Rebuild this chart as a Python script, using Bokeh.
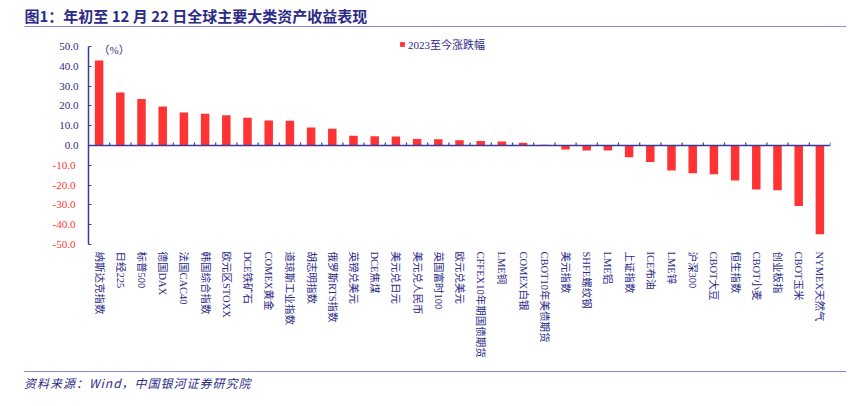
import math
from bokeh.plotting import figure
from bokeh.models import (ColumnDataSource, Div, Span, Label, Legend,
                          LegendItem, FixedTicker, LinearAxis)
from bokeh.layouts import column
from bokeh.transform import dodge
from bokeh.embed import file_html
from bokeh.resources import INLINE

# ---------------- data ----------------
categories = ["纳斯达克指数", "日经225", "标普500", "德国DAX", "法国CAC40", "韩国综合指数",
              "欧元区STOXX", "DCE铁矿石", "COMEX黄金", "道琼斯工业指数", "胡志明指数",
              "俄罗斯RTS指数", "英镑兑美元", "DCE焦煤", "美元兑日元", "美元兑人民币",
              "英国富时100", "欧元兑美元", "CFFEX10年期国债期货", "LME铜", "COMEX白银",
              "CBOT10年美债期货", "美元指数", "SHFE螺纹钢", "LME铝", "上证指数", "ICE布油",
              "LME锌", "沪深300", "CBOT大豆", "恒生指数", "CBOT小麦", "创业板指", "CBOT玉米",
              "NYMEX天然气"]
values = [42.9, 26.8, 23.5, 19.7, 16.7, 16.0, 15.3, 14.0, 12.6, 12.5, 9.1, 8.4, 4.9, 4.7,
          4.5, 3.2, 3.1, 2.6, 2.2, 2.0, 1.4, 0.3, -2.0, -2.5, -2.5, -5.9, -8.4, -12.6,
          -14.0, -14.5, -17.7, -22.2, -22.6, -30.5, -44.8]
y_ticks = [50, 40, 30, 20, 10, 0, -10, -20, -30, -40, -50]
y_tick_labels = ["50.0", "40.0", "30.0", "20.0", "10.0", "0.0", "-10.0", "-20.0",
                 "-30.0", "-40.0", "-50.0"]
title_text = "图1：年初至 12 月 22 日全球主要大类资产收益表现"
legend_label = "2023至今涨跌幅"
unit_label = "（%）"
source_text = "资料来源：Wind，中国银河证券研究院"

# ---------------- styles ----------------
NAVY = "#2B2A86"
AXIS = "#3C3A9A"
RED = "#FF3333"
RULE = "#8C86C8"
SERIF = "'Liberation Serif', 'Noto Sans CJK SC'"
W = 846

# ---------------- title strip (its own small svg figure) ----------------
tp = figure(width=W, height=27, x_range=(0, W), y_range=(27, 0),
            x_axis_type=None, y_axis_type=None, output_backend="svg",
            toolbar_location=None, min_border=0, frame_align=False)
tp.grid.visible = False
tp.outline_line_color = None
tp.add_layout(Label(x=24, y=15, text=title_text, text_font="'Noto Sans CJK SC'",
                    text_font_style="bold", text_font_size="15px",
                    text_color=NAVY, text_baseline="middle"))
tp.segment(x0=[24], y0=[26], x1=[W], y1=[26], line_color=RULE, line_width=1.2)

# ---------------- main chart ----------------
src = ColumnDataSource(dict(cat=categories, val=values))

p = figure(x_range=categories, y_range=(-50, 54), width=W, height=344,
           output_backend="svg", toolbar_location=None,
           min_border_left=88, min_border_right=16, min_border_top=11,
           min_border_bottom=127, frame_align=False)
p.xgrid.visible = False
p.ygrid.visible = False
p.outline_line_color = None
p.background_fill_color = "white"
p.border_fill_alpha = 0

bars = p.vbar(x="cat", top="val", width=0.4, source=src, fill_color=RED,
              line_color=None)

# zero axis line with boundary ticks
p.add_layout(Span(location=0, dimension="width", line_color=AXIS, line_width=1.5))
p.segment(x0=dodge("cat", 0.5, range=p.x_range), y0=0,
          x1=dodge("cat", 0.5, range=p.x_range), y1=1.5,
          source=src, line_color=AXIS, line_width=1.2)

# x axis (labels only, at bottom)
xa = p.xaxis[0]
xa.axis_line_color = None
xa.major_tick_line_color = None
xa.minor_tick_line_color = None
xa.major_tick_in = 0
xa.major_tick_out = 0
xa.major_label_orientation = -math.pi / 2
xa.major_label_standoff = 7
xa.major_label_text_font = SERIF
xa.major_label_text_font_size = "10.5px"
xa.major_label_text_color = NAVY

# y axis: line, ticks and non-negative labels in navy
pos_labels = {t: (lab if t >= 0 else "") for t, lab in zip(y_ticks, y_tick_labels)}
neg_labels = {t: (lab if t < 0 else "") for t, lab in zip(y_ticks, y_tick_labels)}

ya = p.yaxis[0]
ya.ticker = FixedTicker(ticks=y_ticks)
ya.bounds = (min(y_ticks), max(y_ticks))
ya.axis_line_color = AXIS
ya.axis_line_width = 1.5
ya.major_tick_line_color = AXIS
ya.major_tick_line_width = 1.2
ya.major_tick_in = 3
ya.major_tick_out = 0
ya.minor_tick_line_color = None
ya.major_label_standoff = 10
ya.major_label_overrides = pos_labels
ya.major_label_text_font = SERIF
ya.major_label_text_font_size = "11px"
ya.major_label_text_color = NAVY

# outer axis carrying only the red negative labels, pulled back under the first one
ya2 = LinearAxis(ticker=FixedTicker(ticks=y_ticks), bounds=(min(y_ticks), max(y_ticks)),
                 axis_line_color=None, major_tick_line_color=None,
                 minor_tick_line_color=None, major_tick_in=0, major_tick_out=0,
                 major_label_standoff=-19, major_label_overrides=neg_labels,
                 major_label_text_font=SERIF, major_label_text_font_size="11px",
                 major_label_text_color=RED)
p.add_layout(ya2, "left")

p.add_layout(Label(x=10, y=48, x_units="screen", y_units="data", text=unit_label,
                   text_font=SERIF, text_font_size="11px", text_color=NAVY,
                   text_baseline="middle"))

legend = Legend(items=[LegendItem(label=legend_label, renderers=[bars])],
                location=(311, 192), orientation="horizontal",
                border_line_color=None, background_fill_alpha=0,
                padding=0, margin=0, spacing=0,
                glyph_width=6, glyph_height=6, label_standoff=3,
                label_height=12, label_text_font=SERIF,
                label_text_font_size="11px", label_text_color=NAVY)
p.add_layout(legend)

# ---------------- footer ----------------
footer_html = ('<div style="margin-left:24px;width:822px;height:18px;'
               'border-top:1px solid %s;padding-top:3px;line-height:16px;'
               'font-family:\'Noto Sans CJK SC\';font-size:12px;font-style:italic;'
               'letter-spacing:1px;color:%s;white-space:nowrap;">%s</div>'
               % (RULE, NAVY, source_text))
footer_div = Div(text=footer_html, width=W, height=26, margin=0)

layout = column(tp, p, footer_div, spacing=0)

open("out.html", "w").write(file_html(layout, INLINE))
